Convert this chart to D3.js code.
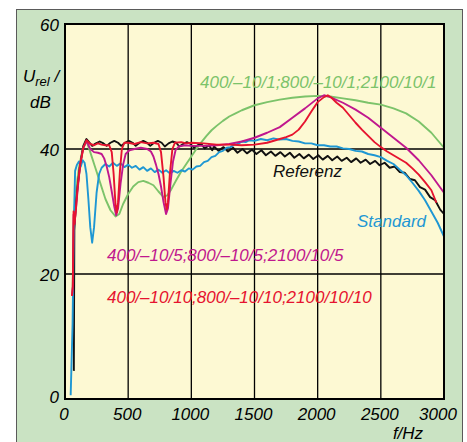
<!DOCTYPE html>
<html>
<head>
<meta charset="utf-8">
<script src="https://cdn.jsdelivr.net/npm/d3@7"></script>
<style>
  body { margin: 0; background: #fff; }
  text { font-family: "Liberation Sans", Arial, sans-serif; font-style: italic; }
</style>
</head>
<body>
<div id="chart"></div>
<script>
// tick values
var xTicks = [0, 500, 1000, 1500, 2000, 2500, 3000];
var yTicks = [0, 20, 40, 60];

// curves: [f in Hz, U in dB]
var referenz = [[70,4.5],[74,27],[85,31],[100,34],[120,37.5],[145,40.5],[170,41.6],[195,41.0],[215,40.5],[245,40.9],[275,41.2],[305,40.9],[330,40.5],[360,41.0],[390,41.3],[420,41.0],[445,40.5],[475,41.0],[505,41.3],[535,41.0],[560,40.5],[590,41.0],[620,41.3],[650,41.0],[675,40.5],[705,41.0],[735,41.3],[765,41.0],[790,40.4],[820,40.9],[850,41.2],[880,41.0],[905,40.4],[935,40.8],[965,41.1],[995,40.8],[1020,40.2],[1050,40.6],[1080,40.8],[1105,40.1],[1140,40.6],[1165,39.8],[1180,40.4],[1215,39.7],[1255,40.3],[1290,39.6],[1330,40.2],[1365,39.4],[1405,40.0],[1440,39.3],[1480,39.9],[1515,39.2],[1555,39.8],[1590,39.0],[1630,39.6],[1665,38.9],[1705,39.5],[1740,38.8],[1780,39.4],[1815,38.6],[1855,39.2],[1890,38.5],[1930,39.1],[1965,38.4],[2005,39.0],[2040,38.3],[2080,38.9],[2115,38.2],[2155,38.8],[2190,38.1],[2230,38.6],[2265,37.9],[2305,38.5],[2340,37.8],[2380,38.3],[2415,37.6],[2455,38.1],[2490,37.4],[2530,37.8],[2570,37.0],[2610,37.2],[2650,36.3],[2690,36.2],[2730,35.2],[2770,35.0],[2810,33.9],[2850,33.5],[2890,32.3],[2930,31.8],[2970,30.3],[3000,29.6]];

var standard = [[45,0.6],[60,12],[70,28],[80,36.5],[95,37.5],[110,38.0],[125,37.2],[140,38.2],[155,37.8],[170,36.0],[185,32],[200,27.5],[215,25.0],[230,27.5],[250,33],[270,36],[290,37.0],[320,37.6],[350,37.2],[380,37.8],[410,37.3],[440,37.7],[470,37.1],[500,37.5],[530,37.0],[560,37.3],[590,36.7],[620,37.1],[650,36.5],[680,36.9],[710,36.3],[740,36.7],[770,36.2],[800,36.6],[830,36.1],[860,36.5],[890,36.2],[920,36.6],[950,36.4],[980,36.9],[1010,36.7],[1040,37.2],[1070,37.3],[1100,37.9],[1130,38.1],[1160,38.7],[1190,38.9],[1220,39.5],[1250,39.7],[1280,40.2],[1310,40.3],[1340,40.7],[1370,40.8],[1400,41.2],[1430,41.1],[1460,41.4],[1500,41.3],[1550,41.6],[1600,41.4],[1650,41.7],[1700,41.5],[1750,41.6],[1800,41.3],[1850,41.2],[1900,40.9],[1950,40.9],[2000,40.6],[2050,40.6],[2100,40.4],[2150,40.4],[2200,40.1],[2250,40.0],[2300,39.7],[2350,39.6],[2400,39.2],[2450,39.0],[2500,38.7],[2550,38.1],[2600,37.6],[2650,36.7],[2700,35.8],[2750,34.6],[2800,33.3],[2850,31.8],[2900,30.0],[2950,28.2],[3000,26.0]];

var filter1 = [[60,17],[70,29],[85,33],[110,37],[140,40],[170,41.3],[200,39.5],[240,37],[280,34.5],[320,32],[360,30.2],[400,29.2],[430,29.6],[460,31.2],[500,32.8],[540,34],[580,34.7],[620,34.9],[660,34.6],[700,34.2],[740,33.2],[780,32.3],[810,32.6],[840,33.5],[880,35],[920,36.4],[960,37.6],[1000,38.8],[1040,40],[1080,41.1],[1120,42.1],[1160,43],[1200,43.7],[1250,44.5],[1300,45.2],[1350,45.7],[1400,46.2],[1450,46.6],[1500,47],[1600,47.5],[1700,47.9],[1800,48.2],[1900,48.4],[2000,48.5],[2100,48.4],[2200,48.1],[2300,47.8],[2400,47.4],[2500,47.1],[2600,46.5],[2700,45.7],[2800,44.4],[2900,42.6],[3000,40.2]];

var filter5 = [[55,16.5],[62,18],[68,29.5],[75,28],[85,30],[100,33.5],[120,37.5],[145,40.2],[170,41.3],[200,40.0],[230,39.5],[260,39.4],[290,39.2],[310,38.5],[330,37.2],[350,35.5],[370,33.2],[390,30.8],[405,29.4],[420,30.5],[440,34.5],[460,37.5],[480,39.2],[510,39.8],[550,40.0],[600,40.2],[650,40.0],[680,39.6],[700,38.8],[720,37.5],[740,36],[760,34],[780,31.5],[800,29.6],[815,30.5],[835,34.5],[855,38],[875,39.8],[900,40.4],[950,40.6],[1000,40.5],[1100,40.5],[1200,40.6],[1300,40.8],[1400,41.2],[1500,41.8],[1600,42.6],[1700,43.5],[1800,45.0],[1900,46.5],[2000,48.1],[2050,48.6],[2100,48.3],[2200,47.4],[2300,46.3],[2400,45.0],[2500,43.4],[2600,41.8],[2700,40.2],[2800,38.2],[2900,35.8],[3000,33.0]];

var filter10 = [[55,16.5],[62,18],[68,30],[75,28],[85,30],[100,34],[120,37.5],[145,40.2],[170,41.4],[200,40.8],[230,40.6],[260,40.9],[290,40.7],[320,40.6],[350,40.6],[370,39.5],[385,36],[400,31],[410,29.8],[420,31.5],[435,36.5],[450,40],[470,41],[500,41],[550,40.8],[600,41.1],[650,40.9],[700,41.0],[740,40.8],[760,39.5],[780,35.5],[795,31.5],[805,30.3],[815,31.5],[830,36],[850,40],[870,41],[920,41.1],[960,40.9],[1000,41.0],[1100,40.9],[1200,40.7],[1300,40.7],[1400,40.6],[1500,40.7],[1600,41.0],[1700,41.6],[1750,41.9],[1800,42.3],[1850,43.1],[1900,44.4],[1950,46],[2000,47.5],[2050,48.3],[2080,48.6],[2110,48.2],[2150,47.4],[2200,46.6],[2250,45.4],[2300,44.2],[2350,43.1],[2400,42.1],[2450,41.1],[2500,40.3],[2550,39.6],[2600,39],[2650,38.4],[2700,37.8],[2750,36.9],[2800,35.9],[2850,34.7],[2900,33.4],[2940,31.4]];

function init(){
    var w = 467, h = 442;
    var svg = d3.select("#chart").append("svg")
                .attr("width", w)
                .attr("height", h);

    // outer green panel
    svg.append("rect")
        .attr("x", 16.5).attr("y", 9.5)
        .attr("width", 446).attr("height", 440)
        .attr("fill", "#cae3c3")
        .attr("stroke", "#5a5a5a")
        .attr("stroke-width", 1);

    var xScale = d3.scaleLinear().domain([0, 3000]).range([65, 444]);
    var yScale = d3.scaleLinear().domain([0, 60]).range([399, 24]);

    svg.append("rect")
        .attr("x", 65).attr("y", 24)
        .attr("width", 379).attr("height", 375)
        .attr("fill", "#fdf9d3");

    // grid
    svg.selectAll(".vgrid")
        .data(xTicks.slice(1, -1))
        .enter().append("line")
        .attr("x1", d => xScale(d)).attr("x2", d => xScale(d))
        .attr("y1", 24).attr("y2", 399)
        .attr("stroke", "#000").attr("stroke-width", 1.3);

    svg.selectAll(".hgrid")
        .data(yTicks.slice(1, -1))
        .enter().append("line")
        .attr("x1", 65).attr("x2", 444)
        .attr("y1", d => yScale(d)).attr("y2", d => yScale(d))
        .attr("stroke", "#000").attr("stroke-width", 1.3);

    var line = d3.line()
                .x(d => xScale(d[0]))
                .y(d => yScale(d[1]));

    var series = [
        { data: filter1, color: "#7cc36a" },
        { data: referenz, color: "#111111" },
        { data: standard, color: "#1e97d3" },
        { data: filter5, color: "#c0178e" },
        { data: filter10, color: "#e6132f" }
    ];

    svg.selectAll(".curve")
        .data(series)
        .enter().append("path")
        .attr("d", d => line(d.data))
        .attr("fill", "none")
        .attr("stroke", d => d.color)
        .attr("stroke-width", 1.9)
        .attr("stroke-linejoin", "round");

    // plot frame
    svg.append("rect")
        .attr("x", 65).attr("y", 24)
        .attr("width", 379).attr("height", 375)
        .attr("fill", "none")
        .attr("stroke", "#000").attr("stroke-width", 2);

    // y tick labels
    svg.selectAll(".ylab")
        .data(yTicks)
        .enter().append("text")
        .attr("x", 59)
        .attr("y", d => d === 0 ? yScale(d) + 4 : yScale(d) + 7)
        .attr("text-anchor", "end")
        .attr("font-size", 17)
        .text(d => d);

    // x tick labels
    svg.selectAll(".xlab")
        .data(xTicks)
        .enter().append("text")
        .attr("x", d => d === 3000 ? xScale(d) - 6 : xScale(d) - 1)
        .attr("y", 420)
        .attr("text-anchor", "middle")
        .attr("font-size", 17)
        .text(d => d);

    svg.append("text")
        .attr("x", 408).attr("y", 439)
        .attr("text-anchor", "middle")
        .attr("font-size", 17)
        .text("f/Hz");

    var ylab = svg.append("text")
        .attr("x", 23).attr("y", 82)
        .attr("font-size", 17);
    ylab.append("tspan").text("U");
    ylab.append("tspan").attr("font-size", 13).attr("dy", 4).text("rel");
    ylab.append("tspan").attr("dy", -4).text(" /");

    svg.append("text")
        .attr("x", 30).attr("y", 108)
        .attr("font-size", 17)
        .text("dB");

    // curve labels
    var labels = [
        { text: "400/\u201310/1;800/\u201310/1;2100/10/1", x: 200, y: 88, color: "#7cc36a" },
        { text: "Referenz", x: 273, y: 177, color: "#111111" },
        { text: "Standard", x: 357, y: 227, color: "#1e97d3" },
        { text: "400/\u201310/5;800/\u201310/5;2100/10/5", x: 107, y: 261, color: "#c0178e" },
        { text: "400/\u201310/10;800/\u201310/10;2100/10/10", x: 107, y: 303, color: "#e6132f" }
    ];

    labels.forEach(l => {
        svg.append("text")
            .attr("x", l.x).attr("y", l.y)
            .attr("font-size", 17)
            .attr("fill", l.color)
            .text(l.text);
    });
}

init();
</script>
</body>
</html>
